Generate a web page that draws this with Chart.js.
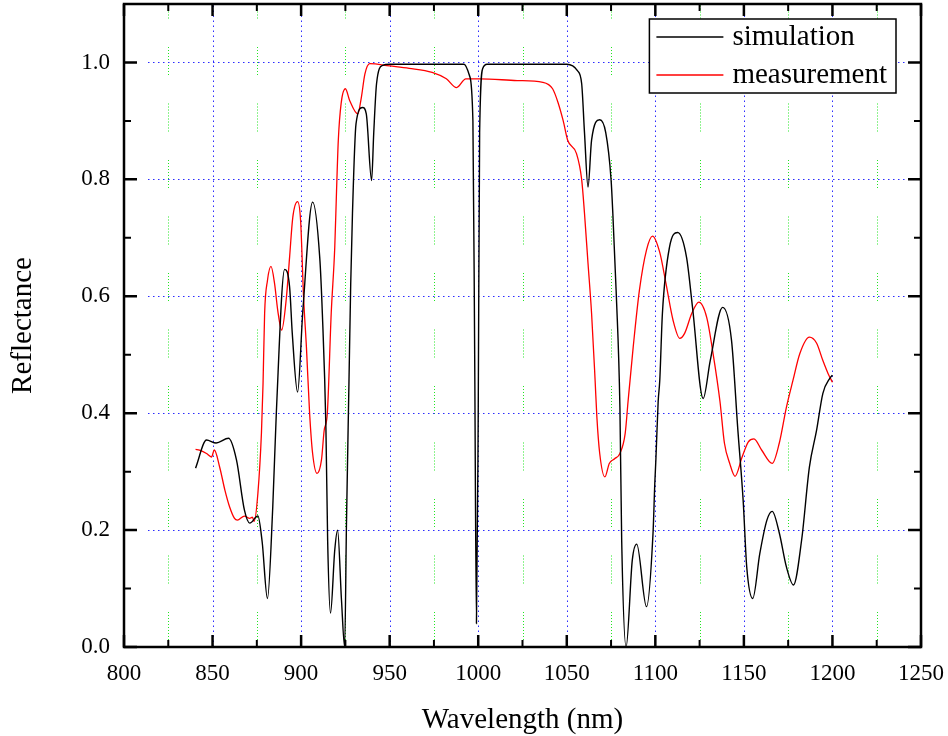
<!DOCTYPE html>
<html>
<head>
  <meta charset="utf-8">
  <title>Reflectance</title>
  <script src="https://cdnjs.cloudflare.com/ajax/libs/Chart.js/4.4.0/chart.umd.min.js"></script>
  <style>
    body {
      margin: 0;
      background-color: white;
    }
    .chart-container {
      width: 948px;
      height: 736px;
    }
  </style>
</head>
<body>
  <div class="chart-container">
    <canvas id="myChart"></canvas>
  </div>

  <script>
    // simulation curve (wavelength nm, reflectance)
    const simWavelength = [
      840.4, 846.6, 852, 859, 863.5, 868, 871, 875.6, 878, 881, 884, 886,
      890.7, 893.5, 895, 898, 901, 906.5, 910.5, 912, 914, 915, 916.6, 919,
      920.6, 922.8, 924.6, 925.6, 927, 928, 929, 931, 934.7, 936.8, 939.8, 941,
      942.6, 946, 950, 970, 992, 995, 997, 998, 999, 1000, 1000.8, 1002.6,
      1005, 1030, 1050, 1056, 1058.4, 1060, 1062, 1064, 1068.6, 1072, 1075, 1076,
      1078, 1080, 1081, 1083.5, 1087, 1089.5, 1095, 1098.7, 1099.7, 1100.3, 1101.6, 1102.5,
      1104, 1108, 1112.6, 1117.6, 1121, 1127, 1131, 1138, 1143, 1146.6, 1149.6, 1151.6,
      1155, 1159, 1163, 1166, 1170, 1174, 1178, 1182.6, 1187, 1191, 1194.6, 1198.6,
      1200
    ];
    const simReflectance = [
      0.306, 0.354, 0.349, 0.357, 0.32, 0.234, 0.212, 0.224, 0.18, 0.083, 0.24, 0.40,
      0.646, 0.616, 0.537, 0.436, 0.576, 0.761, 0.667, 0.57, 0.376, 0.18, 0.058, 0.166,
      0.2, 0.08, 0.0, 0.21, 0.45, 0.62, 0.742, 0.895, 0.923, 0.912, 0.798, 0.879,
      0.964, 0.995, 0.997, 0.997, 0.997, 0.978, 0.9, 0.5, 0.04, 0.4, 0.88, 0.99,
      0.997, 0.997, 0.997, 0.986, 0.964, 0.88, 0.787, 0.867, 0.902, 0.88, 0.8, 0.742,
      0.6, 0.41, 0.183, 0.0, 0.149, 0.176, 0.069, 0.195, 0.28, 0.32, 0.42, 0.456,
      0.571, 0.684, 0.709, 0.667, 0.581, 0.425, 0.49, 0.581, 0.525, 0.371, 0.25, 0.137,
      0.083, 0.16, 0.217, 0.232, 0.195, 0.137, 0.106, 0.183, 0.308, 0.37, 0.434, 0.46,
      0.465
    ];

    // measured curve
    const measWavelength = [
      840.4, 842.6, 846.6, 849.4, 851, 854, 857, 859.6, 862.4, 864, 868, 871,
      872.5, 873.5, 875.6, 877.6, 878.5, 879.4, 881, 883, 885, 886.8, 889, 891.7,
      893.5, 895.3, 898, 899.7, 901.4, 903, 904.8, 906.5, 909, 911.5, 913, 914.8,
      917, 919, 920, 921, 922.6, 925, 927.4, 932, 934, 936, 938.7, 950,
      961, 974, 982, 987.8, 993, 1001, 1022, 1036.5, 1042, 1045, 1048, 1050.5,
      1055.5, 1058.4, 1060, 1062, 1064, 1066, 1067, 1068.6, 1071.5, 1074, 1077, 1080,
      1083, 1084.6, 1087.5, 1091, 1095, 1098.4, 1102.5, 1106, 1110, 1113.8, 1116.6, 1120.6,
      1124.6, 1129, 1132.6, 1136.5, 1139, 1142, 1145, 1149, 1152.5, 1155.7, 1160, 1166,
      1170, 1174, 1177.7, 1181.6, 1187, 1191, 1194.6, 1197.5, 1200
    ];
    const measReflectance = [
      0.338, 0.337, 0.331, 0.325, 0.337, 0.308, 0.268, 0.24, 0.22, 0.217, 0.224, 0.22,
      0.222, 0.215, 0.263, 0.366, 0.45, 0.571, 0.627, 0.651, 0.622, 0.576, 0.542, 0.598,
      0.667, 0.735, 0.762, 0.73, 0.598, 0.513, 0.40, 0.331, 0.297, 0.32, 0.37, 0.40,
      0.571, 0.684, 0.78, 0.867, 0.93, 0.955, 0.935, 0.912, 0.94, 0.98, 0.998, 0.994,
      0.99, 0.983, 0.972, 0.957, 0.972, 0.972, 0.969, 0.966, 0.955, 0.932, 0.9, 0.867,
      0.844, 0.8, 0.742, 0.656, 0.571, 0.456, 0.393, 0.331, 0.291, 0.314, 0.322, 0.331,
      0.366, 0.42, 0.513, 0.61, 0.679, 0.703, 0.675, 0.622, 0.559, 0.528, 0.537, 0.571,
      0.59, 0.564, 0.502, 0.42, 0.349, 0.314, 0.292, 0.325, 0.351, 0.356, 0.337, 0.314,
      0.349, 0.41, 0.456, 0.502, 0.53, 0.52, 0.49, 0.468, 0.453
    ];

    // axis ticks
    const xMajor = [800, 850, 900, 950, 1000, 1050, 1100, 1150, 1200, 1250];
    const xMinor = [825, 875, 925, 975, 1025, 1075, 1125, 1175, 1225];
    const yMajor = [0.0, 0.2, 0.4, 0.6, 0.8, 1.0];
    const yMinor = [0.1, 0.3, 0.5, 0.7, 0.9];

    const seriesNames = ['simulation', 'measurement'];
    const seriesColors = ['#000000', '#ff0000'];

    const FONT = "'Liberation Serif', 'Times New Roman', serif";
    Chart.defaults.font.family = FONT;
    Chart.defaults.color = '#000';

    function toPoints(xs, ys) {
      return xs.map((x, i) => ({ x: x, y: ys[i] }));
    }

    // scale paddings off, layout padding decides the plot box
    function noPad(s) {
      s.paddingTop = 0;
      s.paddingBottom = 0;
      s.paddingLeft = 0;
      s.paddingRight = 0;
    }

    // grid, inward ticks, frame and inside legend
    const framePlugin = {
      id: 'frame',
      beforeDatasetsDraw(chart) {
        const ctx = chart.ctx;
        const { left, right, top, bottom } = chart.chartArea;
        const xs = chart.scales.x, ys = chart.scales.y;
        ctx.save();

        // green dotted minor verticals, broken into pieces
        const greenDash = [];
        for (let i = 0; i < 9; i++) greenDash.push(1, 2);
        greenDash.push(1, 28.5);
        ctx.strokeStyle = '#22e622';
        ctx.lineWidth = 1;
        ctx.setLineDash(greenDash);
        ctx.lineDashOffset = 49.5;
        xMinor.forEach(v => {
          const px = Math.round(xs.getPixelForValue(v)) + 0.5;
          ctx.beginPath();
          ctx.moveTo(px, bottom);
          ctx.lineTo(px, top);
          ctx.stroke();
        });

        // blue dotted major grid
        ctx.strokeStyle = '#2b2bff';
        ctx.setLineDash([1.5, 3.5]);
        ctx.lineDashOffset = 0;
        xMajor.slice(1, -1).forEach(v => {
          const px = Math.round(xs.getPixelForValue(v)) + 0.5;
          ctx.beginPath();
          ctx.moveTo(px, bottom);
          ctx.lineTo(px, top);
          ctx.stroke();
        });
        yMajor.slice(1).forEach(v => {
          const py = Math.round(ys.getPixelForValue(v)) + 0.5;
          ctx.beginPath();
          ctx.moveTo(left + 24, py);
          ctx.lineTo(right, py);
          ctx.stroke();
        });
        ctx.restore();
      },
      afterDatasetsDraw(chart) {
        const ctx = chart.ctx;
        const { left, right, top, bottom } = chart.chartArea;
        const xs = chart.scales.x, ys = chart.scales.y;
        ctx.save();
        ctx.setLineDash([]);
        ctx.strokeStyle = '#000';

        // ticks pointing inward on all four sides
        const tick = (vals, len, w) => {
          ctx.lineWidth = w;
          vals.forEach(v => {
            const px = xs.getPixelForValue(v);
            ctx.beginPath();
            ctx.moveTo(px, bottom); ctx.lineTo(px, bottom - len);
            ctx.moveTo(px, top); ctx.lineTo(px, top + len);
            ctx.stroke();
          });
        };
        const tickY = (vals, len, w) => {
          ctx.lineWidth = w;
          vals.forEach(v => {
            const py = ys.getPixelForValue(v);
            ctx.beginPath();
            ctx.moveTo(left, py); ctx.lineTo(left + len, py);
            ctx.moveTo(right, py); ctx.lineTo(right - len, py);
            ctx.stroke();
          });
        };
        tick(xMajor, 12, 2.5);
        tick(xMinor, 7, 2);
        tickY(yMajor, 13, 2.5);
        tickY(yMinor, 7, 2);

        // frame
        ctx.lineWidth = 2.5;
        ctx.strokeRect(left, top, right - left, bottom - top);

        // legend box in the upper right corner
        ctx.font = '29px ' + FONT;
        const textW = Math.max(...seriesNames.map(n => ctx.measureText(n).width));
        const boxRight = right - 25;
        const boxTop = top + 15;
        const boxW = 7 + 67 + 9 + textW + 9;
        const boxH = 74;
        const boxLeft = boxRight - boxW;
        ctx.fillStyle = '#fff';
        ctx.fillRect(boxLeft, boxTop, boxW, boxH);
        ctx.lineWidth = 1.5;
        ctx.strokeRect(boxLeft, boxTop, boxW, boxH);
        ctx.textBaseline = 'middle';
        ctx.textAlign = 'left';
        seriesNames.forEach((name, i) => {
          const cy = boxTop + 18 + i * 38;
          ctx.strokeStyle = seriesColors[i];
          ctx.lineWidth = 1.3;
          ctx.beginPath();
          ctx.moveTo(boxLeft + 7, cy);
          ctx.lineTo(boxLeft + 74, cy);
          ctx.stroke();
          ctx.fillStyle = '#000';
          ctx.fillText(name, boxLeft + 83, cy);
        });
        ctx.restore();
      }
    };

    const ctx = document.getElementById('myChart').getContext('2d');
    const myChart = new Chart(ctx, {
      type: 'line',
      data: {
        datasets: [
          {
            label: seriesNames[0],
            data: toPoints(simWavelength, simReflectance),
            borderColor: seriesColors[0],
            borderWidth: 1.4,
            pointRadius: 0,
            cubicInterpolationMode: 'monotone',
            fill: false
          },
          {
            label: seriesNames[1],
            data: toPoints(measWavelength, measReflectance),
            borderColor: seriesColors[1],
            borderWidth: 1.3,
            pointRadius: 0,
            cubicInterpolationMode: 'monotone',
            fill: false
          }
        ]
      },
      options: {
        responsive: true,
        maintainAspectRatio: false,
        animation: false,
        layout: {
          padding: { top: 4, right: 27, left: 0, bottom: 0 }
        },
        plugins: {
          legend: { display: false },
          tooltip: { enabled: false }
        },
        scales: {
          x: {
            type: 'linear',
            min: 800,
            max: 1250,
            grid: { display: false, drawTicks: false },
            border: { display: false },
            afterBuildTicks: s => { s.ticks = xMajor.map(v => ({ value: v })); },
            afterFit: s => { s.height = 89; noPad(s); },
            ticks: {
              font: { size: 23 },
              color: '#000',
              padding: 13,
              maxRotation: 0,
              autoSkip: false,
              callback: v => String(v)
            },
            title: {
              display: true,
              text: 'Wavelength (nm)',
              font: { size: 29, lineHeight: 1.1 },
              color: '#000',
              padding: { top: 0, bottom: 0 }
            }
          },
          y: {
            min: 0,
            max: 1.1,
            grid: { display: false, drawTicks: false },
            border: { display: false },
            afterBuildTicks: s => { s.ticks = yMajor.map(v => ({ value: v })); },
            afterFit: s => { s.width = 124; noPad(s); },
            ticks: {
              font: { size: 23 },
              color: '#000',
              padding: 14,
              callback: v => v.toFixed(1)
            },
            title: {
              display: true,
              text: 'Reflectance',
              font: { size: 29, lineHeight: 1.1 },
              color: '#000',
              padding: { top: 7, bottom: 0 }
            }
          }
        }
      },
      plugins: [framePlugin]
    });
  </script>
</body>
</html>
